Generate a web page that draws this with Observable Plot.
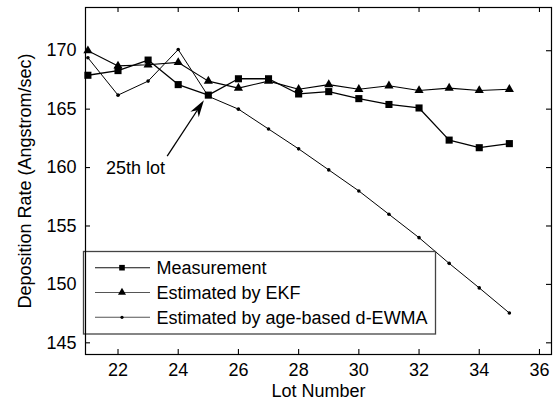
<!DOCTYPE html>
<html><head><meta charset="utf-8">
<script src="https://cdn.jsdelivr.net/npm/d3@7"></script>
<script src="https://cdn.jsdelivr.net/npm/@observablehq/plot@0.6"></script>
<style>
body{margin:0;background:#fff}
svg{font-family:"Liberation Sans",Arial,Helvetica,sans-serif}
</style>
</head><body><div id="chart"></div>
<script>
// ---- data ----
const lots = [21,22,23,24,25,26,27,28,29,30,31,32,33,34,35];
const measurement = [167.9,168.3,169.2,167.1,166.2,167.6,167.6,166.3,166.5,165.9,165.4,165.1,162.35,161.7,162.05];
const ekf = [170.0,168.7,168.8,169.0,167.4,166.8,167.4,166.7,167.1,166.7,167.0,166.6,166.8,166.6,166.7];
const dewma = [169.4,166.2,167.4,170.1,166.1,165.0,163.3,161.6,159.8,158.0,156.0,154.0,151.8,149.7,147.55];
const seriesNames = ["Measurement","Estimated by EKF","Estimated by age-based d-EWMA"];
const xTicks = [22,24,26,28,30,32,34,36];
const yTicks = [145,150,155,160,165,170];
const xDomain = [20.92, 36.4];
const yDomain = [144, 173.7];
const annLabel = ["25th lot"];
const annText = {x: 21.6, y: 159.9};
const annArrow = {x1: 23.65, y1: 160.94, x2: 24.87, y2: 165.72};
const xLabel = ["Lot Number"];
const yLabel = ["Deposition Rate (Angstrom/sec)"];

const meas = lots.map((x,i)=>({x, y: measurement[i]}));
const ek = lots.map((x,i)=>({x, y: ekf[i]}));
const dw = lots.map((x,i)=>({x, y: dewma[i]}));

const W = 557, H = 406, mL = 85, mR = 6, mT = 7, mB = 52;
const fw = W - mL - mR, fh = H - mT - mB;
const TK = 5;

function arrowMark(index, {x, y}) {
  const sx = x(annArrow.x1), sy = y(annArrow.y1), tx = x(annArrow.x2), ty = y(annArrow.y2);
  const dx = tx - sx, dy = ty - sy, len = Math.hypot(dx, dy);
  const ux = dx/len, uy = dy/len, nx = -uy, ny = ux;
  const L = 17, Wd = 5, notch = 5;
  const g = d3.create("svg:g");
  g.append("line").attr("x1", sx).attr("y1", sy).attr("x2", tx - ux*(L-notch)).attr("y2", ty - uy*(L-notch))
    .attr("stroke","black").attr("stroke-width",1.3);
  const pts = [[tx,ty],[tx-L*ux+Wd*nx, ty-L*uy+Wd*ny],[tx-(L-notch)*ux, ty-(L-notch)*uy],[tx-L*ux-Wd*nx, ty-L*uy-Wd*ny]];
  g.append("path").attr("d","M"+pts.map(p=>p.join(",")).join("L")+"Z").attr("fill","black");
  return g.node();
}

function legendMark(index, scales, values, dims) {
  const x0 = dims.marginLeft - 1.5, y0 = 251.5, w = 352, h = 82.5;
  const g = d3.create("svg:g").attr("text-anchor","start");
  g.append("rect").attr("x", x0).attr("y", y0).attr("width", w).attr("height", h)
    .attr("fill","white").attr("stroke","#444").attr("stroke-width",1.3);
  const rowsY = [267.7, 292.5, 317.3];
  const syms = ["square","triangle","dot"];
  rowsY.forEach((ry, i) => {
    g.append("line").attr("x1", x0+11.5).attr("x2", x0+66.5).attr("y1", ry).attr("y2", ry)
      .attr("stroke", i === 0 ? "#111" : "#555").attr("stroke-width", 1.1);
    const cx = x0 + 38.5;
    if (syms[i] === "square") g.append("rect").attr("x", cx-2.8).attr("y", ry-2.8).attr("width",5.6).attr("height",5.6).attr("fill","black");
    else if (syms[i] === "triangle") g.append("path").attr("d", d3.symbol(d3.symbolTriangle, 28)()).attr("transform",`translate(${cx},${ry})`).attr("fill","black");
    else g.append("circle").attr("cx", cx).attr("cy", ry).attr("r", 1.6).attr("fill","black");
    g.append("text").attr("x", x0+73).attr("y", ry).attr("dy","0.35em").attr("text-anchor","start")
      .attr("font-size",18).attr("fill","black").text(seriesNames[i]);
  });
  return g.node();
}

const chart = Plot.plot({
  width: W, height: H,
  marginLeft: mL, marginRight: mR, marginTop: mT, marginBottom: mB,
  style: {fontFamily: '"Liberation Sans",Arial,sans-serif', fontSize: "18px", color: "black", background: "white"},
  x: {domain: xDomain},
  y: {domain: yDomain},
  marks: [
    Plot.axisX({ticks: xTicks, anchor: "bottom", tickSize: 0, tickPadding: 9, label: null, fontSize: 18}),
    Plot.axisY({ticks: yTicks, anchor: "left", tickSize: 0, tickPadding: 9, label: null, fontSize: 18}),
    // inward ticks
    Plot.tickX(xTicks, {x: d=>d, insetTop: fh - TK, stroke: "black", strokeWidth: 1.1}),
    Plot.tickX(xTicks, {x: d=>d, insetBottom: fh - TK, stroke: "black", strokeWidth: 1.1}),
    Plot.tickY(yTicks, {y: d=>d, insetRight: fw - TK, stroke: "black", strokeWidth: 1.1}),
    Plot.tickY(yTicks, {y: d=>d, insetLeft: fw - TK, stroke: "black", strokeWidth: 1.1}),
    // series
    Plot.line(dw, {x: "x", y: "y", stroke: "black", strokeWidth: 1}),
    Plot.dot(dw, {x: "x", y: "y", r: 1.8, fill: "black"}),
    Plot.line(ek, {x: "x", y: "y", stroke: "black", strokeWidth: 1.1}),
    Plot.dot(ek, {x: "x", y: "y", symbol: "triangle", r: 3.4, fill: "black"}),
    Plot.line(meas, {x: "x", y: "y", stroke: "black", strokeWidth: 1.3}),
    Plot.dot(meas, {x: "x", y: "y", symbol: "square", r: 4, fill: "black"}),
    // annotation
    Plot.text(annLabel, {x: () => annText.x, y: () => annText.y, text: d=>d, textAnchor: "start", fontSize: 18, fill: "black"}),
    arrowMark,
    legendMark,
    Plot.frame({stroke: "black", strokeWidth: 1.2}),
    // axis titles
    Plot.text(xLabel, {frameAnchor: "bottom", dy: 42, text: d=>d, textAnchor: "middle", fontSize: 18, fill: "black"}),
    Plot.text(yLabel, {frameAnchor: "left", dx: -60, rotate: -90, text: d=>d, textAnchor: "middle", fontSize: 18, fill: "black"})
  ]
});
document.getElementById("chart").appendChild(chart);
</script>
</body></html>
